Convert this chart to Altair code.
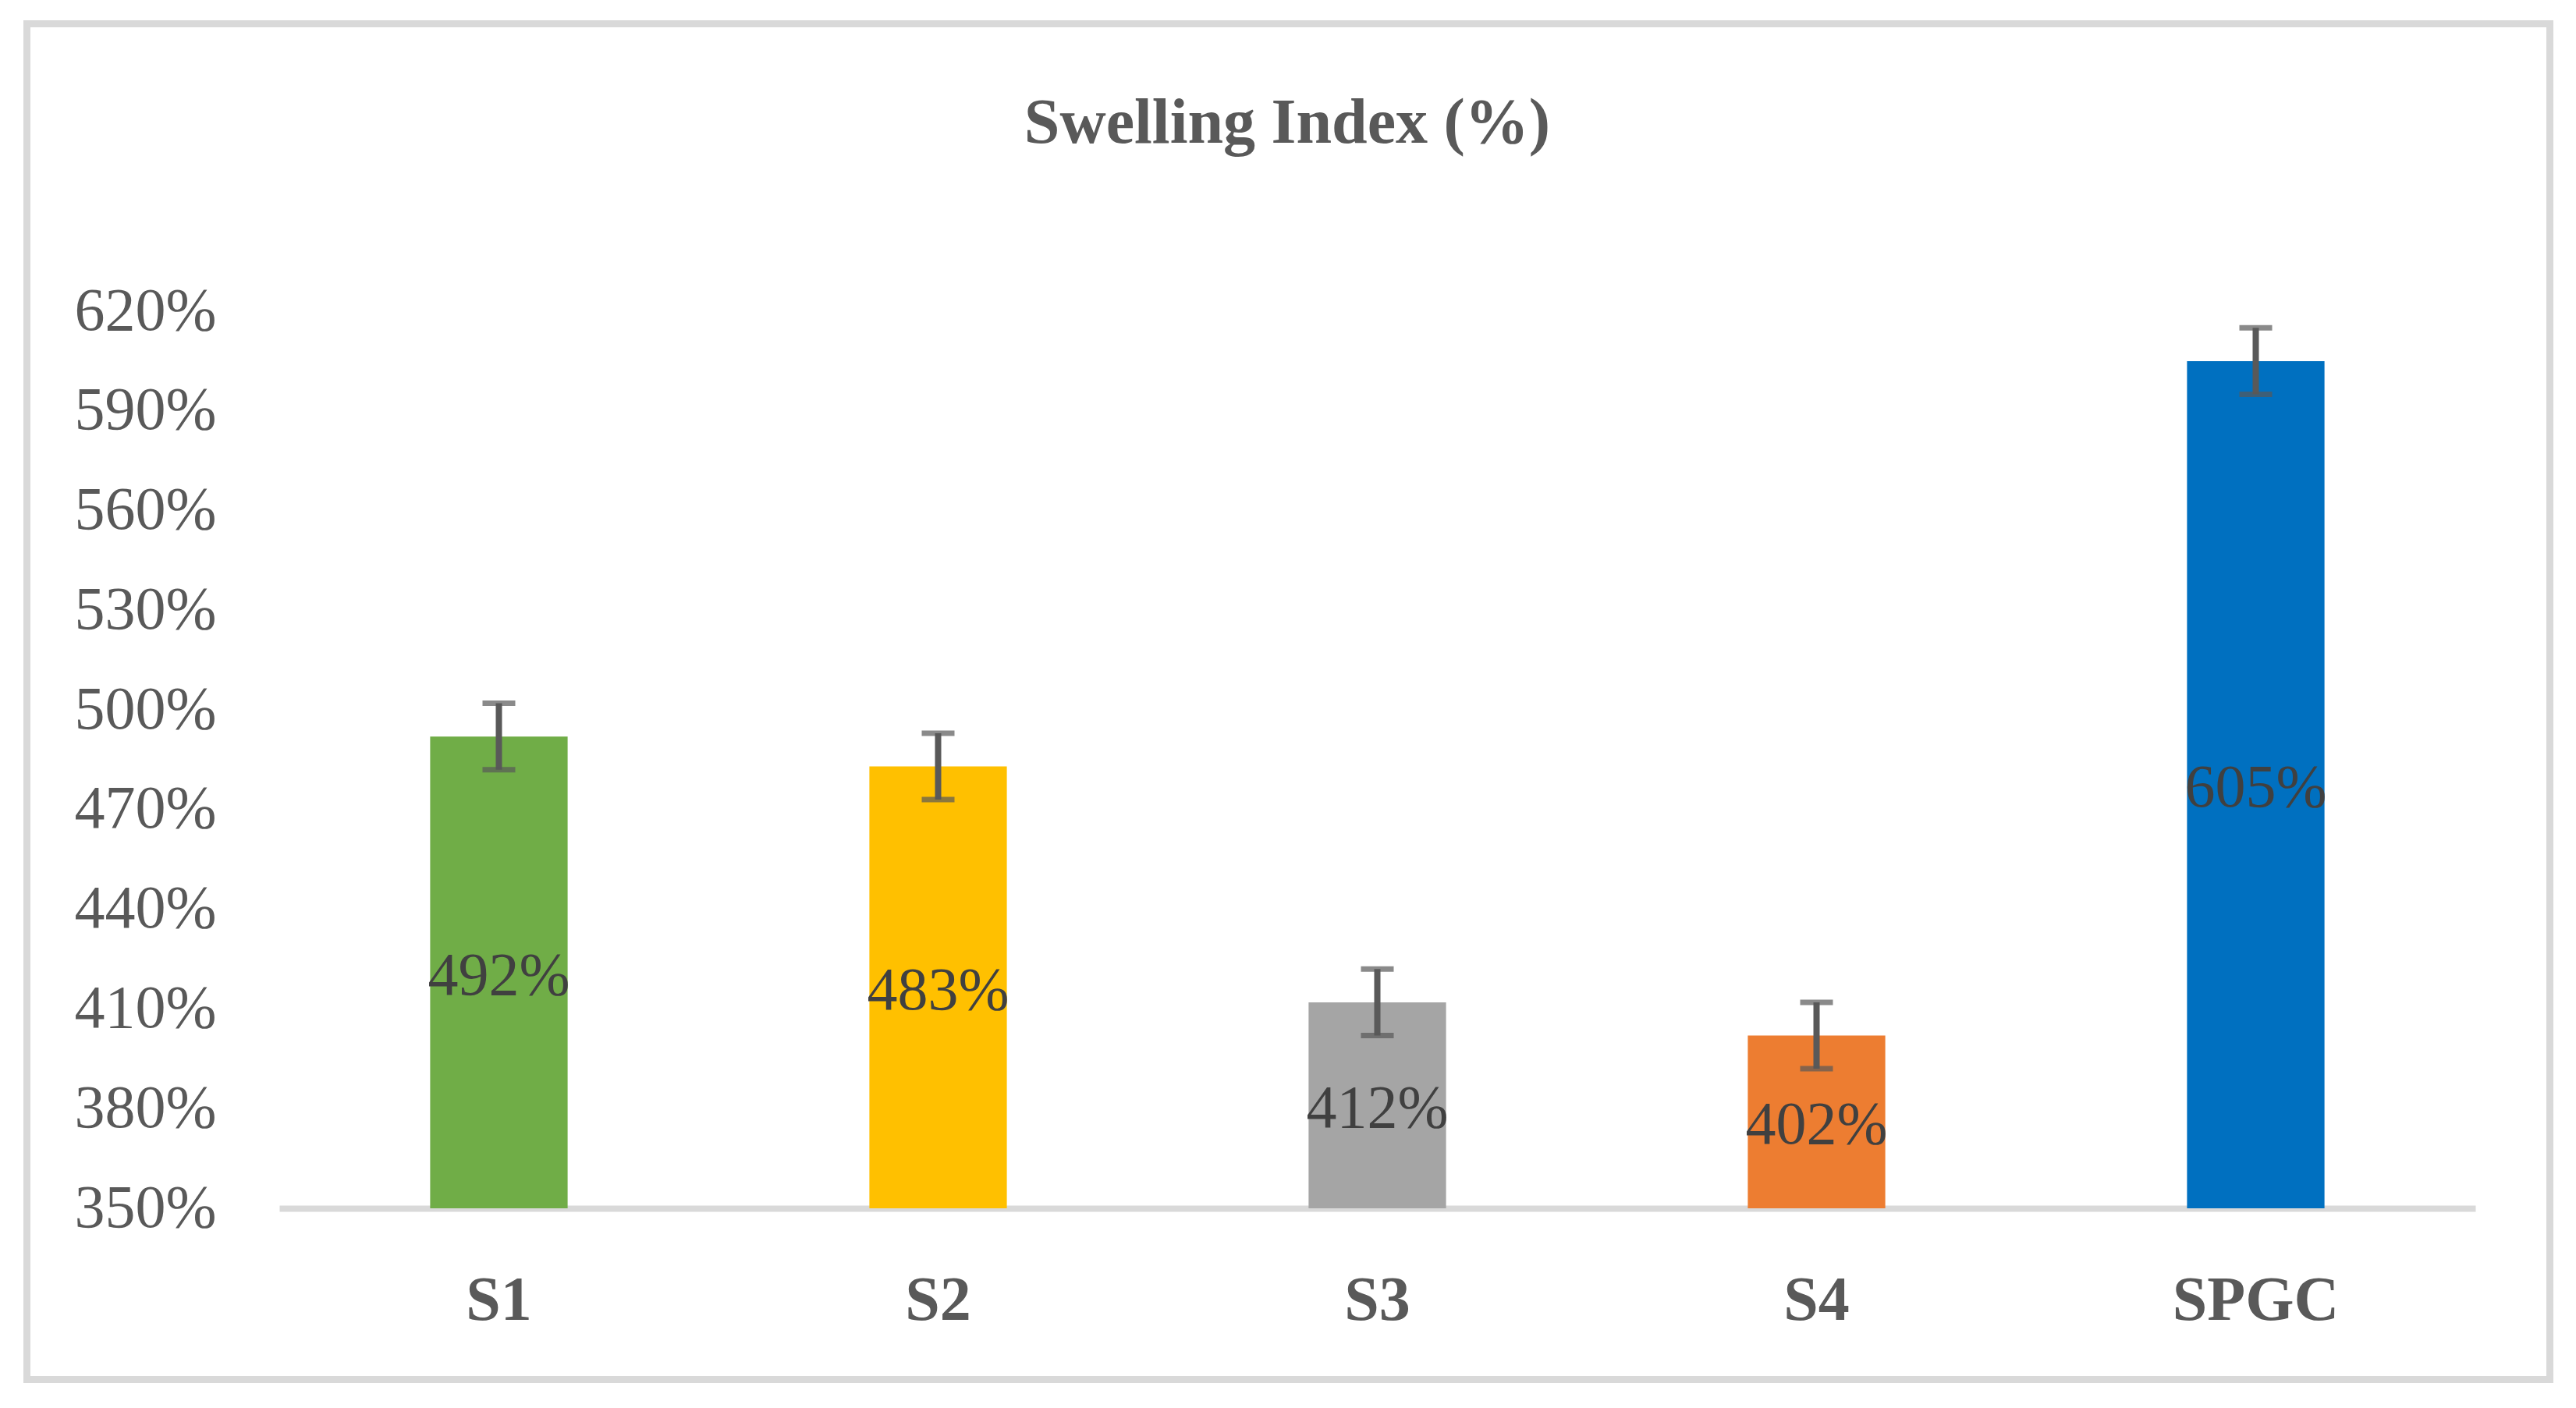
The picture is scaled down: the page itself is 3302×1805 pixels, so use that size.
import altair as alt
import pandas as pd

categories = ["S1", "S2", "S3", "S4", "SPGC"]
values = [492, 483, 412, 402, 605]
errors = [10, 10, 10, 10, 10]
colors = ["#70ad47", "#ffc000", "#a5a5a5", "#ed7d31", "#0070c0"]
y_ticks = [350, 380, 410, 440, 470, 500, 530, 560, 590, 620]
title_text = "Swelling Index (%)"

df = pd.DataFrame({"cat": categories, "value": values, "err": errors})

FONT = "Liberation Serif"
W, H = 2815, 1150

xenc = alt.X(
    "cat:N",
    sort=categories,
    scale=alt.Scale(paddingInner=0.687, paddingOuter=0.3435),
    axis=alt.Axis(
        title=None, labelAngle=0, ticks=False, grid=False,
        domainColor="#d9d9d9", domainWidth=8,
        labelFont=FONT, labelFontSize=80, labelFontWeight="bold",
        labelColor="#595959", labelPadding=79, labelLimit=0,
    ),
)
yscale = alt.Scale(domain=[350, 620], nice=False, zero=False)
yaxis = alt.Axis(
    title=None, values=y_ticks, labelExpr="datum.value + '%'",
    domain=False, ticks=False, grid=False,
    labelFont=FONT, labelFontSize=78, labelColor="#595959", labelPadding=81,
    labelLimit=0,
)

base = alt.Chart(df).transform_calculate(
    lo="datum.value - datum.err",
    hi="datum.value + datum.err",
    mid="(350 + datum.value) / 2",
    label="datum.value + '%'",
)

bars = base.mark_bar().encode(
    x=xenc,
    y=alt.Y("value:Q", scale=yscale, axis=yaxis),
    y2=alt.datum(350),
    color=alt.Color("cat:N", scale=alt.Scale(domain=categories, range=colors), legend=None),
)

stems = base.mark_rule(color="#595959", strokeWidth=8).encode(
    x=alt.X("cat:N", sort=categories),
    y=alt.Y("lo:Q", scale=yscale),
    y2="hi:Q",
)
caps_hi = base.mark_tick(color="#595959", size=42, thickness=7, orient="horizontal").encode(
    x=alt.X("cat:N", sort=categories),
    y=alt.Y("hi:Q", scale=yscale),
)
caps_lo = base.mark_tick(color="#595959", size=42, thickness=7, orient="horizontal").encode(
    x=alt.X("cat:N", sort=categories),
    y=alt.Y("lo:Q", scale=yscale),
)

labels = base.mark_text(
    font=FONT, fontSize=78, color="#404040", baseline="middle", align="center", dy=5
).encode(
    x=alt.X("cat:N", sort=categories),
    y=alt.Y("mid:Q", scale=yscale),
    text="label:N",
)

title = alt.Chart(pd.DataFrame({"t": [title_text]})).mark_text(
    font=FONT, fontSize=82, fontWeight="bold", color="#595959",
    baseline="middle", align="center",
).encode(text="t:N", x=alt.value(1292), y=alt.value(-241))

border = alt.Chart(pd.DataFrame({"t": [0]})).mark_rect(
    fillOpacity=0, stroke="#d9d9d9", strokeWidth=9
).encode(
    x=alt.value(-323.5), x2=alt.value(2910.5),
    y=alt.value(-368.5), y2=alt.value(1369.5),
)

chart = alt.layer(border, bars, stems, caps_hi, caps_lo, labels, title).properties(
    width=W, height=H,
    autosize=alt.AutoSizeParams(type="none"),
    padding={"left": 350, "top": 391, "right": 110, "bottom": 230},
    background="white",
).configure_view(stroke=None)

chart.save("out.html", embed_options={"renderer": "svg", "actions": False})
